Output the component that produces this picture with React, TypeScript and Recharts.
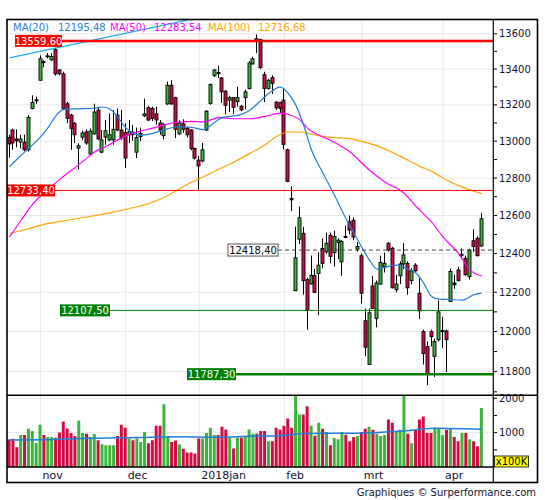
import React from 'react';
import { ComposedChart, Bar, Line, XAxis, YAxis, CartesianGrid, ReferenceLine, Cell } from 'recharts';

// DAX daily candles, 19 oct 2017 .. 17 apr 2018 (trading-day index 0..122)
const opens = [13020, 13061, 13012, 12995, 12994, 12953, 13180, 13222, 13337, 13442,
  13470, 13452, 13510, 13395, 13373, 13206, 13143, 13098, 12962, 13022,
  13051, 12930, 13040, 13171, 12940, 13022, 13007, 13007, 13143, 13061,
  13047, 13035, 13050, 12940, 13025, 13140, 13185, 13180, 13150, 13100,
  13030, 13205, 13309, 13240, 13040, 13095, 13070, 13061, 12960, 12897,
  12892, 13061, 13208, 13363, 13380, 13350, 13276, 13226, 13240, 13218,
  13192, 13240, 13291, 13429, 13572, 13567, 13368, 13291, 13352, 13215,
  13212, 13226, 12953, 12690, 12208, 12475, 12506, 12265, 12243, 12287,
  12297, 12427, 12409, 12496, 12406, 12458, 12357, 12490, 12567, 12575,
  12423, 12389, 12055, 11835, 12232, 12067, 12242, 12332, 12454, 12428,
  12213, 12285, 12346, 12349, 12260, 12340, 12195, 12000, 11925, 12000,
  11876, 11959, 12000, 12003, 12153, 12248, 12315, 12390, 12375, 12280,
  12467, 12480, 12440];
const highs = [13035, 13068, 13065, 13035, 13035, 13143, 13253, 13246, 13477, 13450,
  13490, 13490, 13520, 13400, 13385, 13217, 13150, 13105, 12988, 13057,
  13065, 13070, 13206, 13190, 13061, 13116, 13153, 13171, 13180, 13171,
  13098, 13116, 13090, 13075, 13075, 13235, 13195, 13190, 13190, 13116,
  13100, 13330, 13337, 13245, 13115, 13120, 13080, 13065, 12965, 12920,
  12990, 13171, 13318, 13400, 13420, 13355, 13282, 13250, 13240, 13300,
  13200, 13285, 13445, 13470, 13596, 13572, 13385, 13345, 13365, 13220,
  13218, 13290, 12960, 12756, 12542, 12648, 12540, 12275, 12390, 12320,
  12406, 12479, 12510, 12510, 12520, 12480, 12470, 12547, 12600, 12590,
  12460, 12400, 12117, 12117, 12285, 12260, 12389, 12406, 12460, 12435,
  12290, 12360, 12454, 12360, 12325, 12350, 12273, 12010, 11950, 12010,
  11965, 12158, 12075, 12010, 12322, 12290, 12330, 12427, 12390, 12425,
  12527, 12490, 12614];
const lows = [12910, 12953, 12966, 12960, 12945, 12943, 13175, 13206, 13335, 13410,
  13460, 13447, 13363, 13365, 13171, 13098, 12953, 12990, 12845, 13007,
  12980, 12925, 13035, 13007, 12935, 12980, 13000, 12980, 13055, 13007,
  12854, 12990, 13002, 12908, 13000, 13133, 13110, 13110, 13090, 13035,
  13010, 13200, 13200, 13017, 13035, 13045, 13020, 12950, 12900, 12738,
  12885, 13055, 13200, 13355, 13350, 13210, 13148, 13160, 13150, 13190,
  13165, 13175, 13285, 13425, 13490, 13400, 13215, 13285, 13260, 13172,
  13155, 12955, 12778, 12623, 12208, 12450, 12188, 12009, 12240, 12195,
  12082, 12323, 12400, 12350, 12333, 12372, 12285, 12480, 12500, 12470,
  12410, 12143, 11876, 11835, 12117, 12022, 12240, 12302, 12410, 12220,
  12200, 12242, 12320, 12188, 12240, 12305, 12063, 11835, 11733, 11925,
  11774, 11950, 11917, 11798, 12150, 12218, 12255, 12375, 12285, 12265,
  12409, 12385, 12435];
const closes = [12985, 12990, 13002, 13012, 12953, 13131, 13213, 13228, 13458, 13436,
  13475, 13471, 13373, 13373, 13180, 13125, 13070, 13035, 12975, 13045,
  12990, 13055, 13160, 13012, 13007, 13057, 13035, 13065, 13061, 13017,
  12908, 13052, 13035, 13020, 13042, 13150, 13116, 13125, 13116, 13061,
  13092, 13309, 13205, 13065, 13100, 13065, 13035, 12960, 12908, 12865,
  12953, 13165, 13314, 13395, 13375, 13272, 13197, 13240, 13186, 13240,
  13172, 13272, 13435, 13458, 13559.6, 13408, 13291, 13337, 13320, 13183,
  13180, 12983, 12782, 12683, 12378, 12588, 12260, 12108, 12287, 12200,
  12340, 12349, 12454, 12385, 12489, 12470, 12463, 12485, 12523, 12487,
  12437, 12195, 11922, 12095, 12117, 12248, 12354, 12349, 12418.4, 12223,
  12242, 12346, 12393, 12223, 12310, 12310, 12105, 11890, 11787.3, 11975,
  11950, 12100, 12005, 11959, 12307, 12239, 12260, 12396, 12290, 12418,
  12437, 12389, 12583];
// volume in units of 100K
const volumes = [801, 821, 572, 931, 931, 1111, 1051, 701, 1231, 931,
  871, 871, 851, 1001, 1321, 1121, 991, 901, 1351, 991,
  971, 871, 961, 781, 661, 631, 631, 631, 901, 1231,
  1141, 831, 781, 831, 731, 1021, 691, 781, 1201, 1201,
  1830, 901, 731, 771, 661, 532, 422, 422, 392, 831,
  831, 991, 1141, 931, 931, 1171, 1091, 851, 542, 851,
  851, 901, 1091, 971, 971, 1051, 1051, 751, 751, 1141,
  1091, 1201, 1410, 1141, 2100, 1530, 1530, 1769, 1201, 911,
  1290, 1111, 1021, 632, 841, 811, 1021, 941, 751, 871,
  901, 1021, 1111, 1171, 1081, 971, 901, 931, 1380, 1290,
  1021, 1081, 2100, 971, 691, 1081, 1380, 1470, 991, 991,
  1141, 1111, 931, 1081, 1111, 871, 751, 991, 991, 811,
  751, 601, 1719];

// moving averages at sample days
const ma20At = [0, 3, 5, 8, 10, 12, 14, 18, 22, 24, 26, 28, 30, 32, 34, 37, 40, 44, 47, 50, 52, 55, 59, 62, 65, 67, 70, 72, 74, 76, 78, 81, 84, 87, 89, 91, 93, 95, 97, 100, 103, 105, 107, 109, 111, 114, 117, 120, 122];
const ma20 = [12860, 12923, 12961, 13023, 13076, 13139, 13175, 13178, 13181, 13188, 13175, 13131, 13074, 13044, 13032, 13043, 13063, 13079, 13076, 13063, 13087, 13131, 13142, 13169, 13225, 13264, 13299, 13264, 13197, 13087, 12953, 12826, 12705, 12580, 12505, 12433, 12366, 12319, 12329, 12340, 12319, 12299, 12247, 12180, 12165, 12163, 12160, 12188, 12195.48];
const ma50At = [0, 3, 6, 10, 13, 16, 19, 22, 25, 28, 31, 34, 37, 40, 44, 47, 50, 54, 58, 62, 66, 70, 72, 75, 77, 80, 83, 88, 93, 97, 102, 105, 109, 112, 116, 119, 122];
const ma50 = [12487, 12575, 12660, 12740, 12793, 12842, 12890, 12942, 12972, 13007, 13037, 13056, 13071, 13089, 13105, 13109, 13105, 13129, 13123, 13123, 13136, 13154, 13147, 13117, 13070, 13032, 13004, 12941, 12842, 12779, 12717, 12649, 12566, 12487, 12400, 12314, 12283.54];
const ma100At = [0, 5, 10, 15, 21, 26, 31, 36, 40, 44, 47, 50, 54, 58, 62, 66, 69, 72, 75, 78, 81, 85, 88, 91, 96, 101, 106, 109, 113, 117, 120, 122];
const ma100 = [12505, 12531, 12558, 12575, 12596, 12614, 12637, 12664, 12697, 12743, 12777, 12806, 12846, 12887, 12932, 12980, 13026, 13050, 13050, 13038, 13026, 13018, 13014, 12999, 12966, 12917, 12863, 12836, 12788, 12751, 12729, 12716.68];
const volMaAt = [0, 9, 18, 33, 45, 52, 64, 70, 76, 88, 94, 102, 110, 118, 122];
const volMa = [786, 790, 830, 860, 880, 865, 900, 911, 975, 985, 1000, 1045, 1125, 1110, 1097];
const trendAt = [0, 46];
const trend = [13463, 13678];

const monthStarts = [8, 30, 49, 71, 91, 112];
const monthLabels = ['nov', 'dec', '2018jan', 'feb', 'mrt', 'apr'];
const priceLabels = [11800, 12000, 12200, 12400, 12600, 12800, 13000, 13200, 13400, 13600];
const priceTicks = [11700, 11800, 11900, 12000, 12100, 12200, 12300, 12400, 12500, 12600, 12700, 12800, 12900, 13000, 13100, 13200, 13300, 13400, 13500, 13600];
const volLabels = [1000, 2000];
const volTicks = [500, 1000, 1500, 2000];

const levelValues = [13559.6, 12733.4, 12418.4, 12107.5, 11787.3];
const levelTexts = ['13559,60', '12733,40', '12418,40', '12107,50', '11787,30'];
const legendNames = ['MA(20)', 'MA(50)', 'MA(100)'];
const legendValues = ['12195,48', '12283,54', '12716,68'];

// styles / layout
const RED = '#d40a42';
const GREEN = '#3bb53b';
const MA_COLORS = ['#1f7fd8', '#ff00ff', '#ffa500'];
const FONT = '"DejaVu Sans", Verdana, sans-serif';
const TEXT = '#121230';
const X_DOMAIN: [number, number] = [-0.65, 124.9];
const PRICE_DOMAIN: [number, number] = [11683, 13682];
const VOL_TOP = 385; // volume chart svg starts a bit above the panel so its top label fits
const levelStyles = [
  { boxX: 15, boxW: 47, color: '#ff0000', lineW: 2.5, dash: undefined, fill: '#ff0000', text: '#fff', border: 'none' },
  { boxX: 7, boxW: 48, color: '#ff0000', lineW: 1, dash: undefined, fill: '#ff0000', text: '#fff', border: 'none' },
  { boxX: 228, boxW: 50, color: '#444', lineW: 1, dash: '4 3', fill: '#fff', text: '#000', border: '#555' },
  { boxX: 60, boxW: 50, color: '#008000', lineW: 1, dash: undefined, fill: '#008000', text: '#fff', border: 'none' },
  { boxX: 187, boxW: 49, color: '#008000', lineW: 2.5, dash: undefined, fill: '#008000', text: '#fff', border: 'none' },
];
const legendX = [13, 58, 110, 154, 208, 258];

const placeAt = (at: number[], vals: number[], i: number) => {
  const k = at.indexOf(i);
  return k >= 0 ? vals[k] : null;
};

const priceData = closes.map((c, i) => ({
  i,
  o: opens[i],
  h: highs[i],
  l: lows[i],
  c,
  range: [lows[i], highs[i]],
  ma20: placeAt(ma20At, ma20, i),
  ma50: placeAt(ma50At, ma50, i),
  ma100: placeAt(ma100At, ma100, i),
  trend: placeAt(trendAt, trend, i),
}));

const volData = volumes.map((v, i) => ({
  i,
  vol: v,
  volMa: placeAt(volMaAt, volMa, i),
  up: closes[i] >= opens[i],
}));

function Candle(props: any) {
  const { x, y, width, height, payload } = props;
  if (x == null || !payload) return null;
  const { o, h, l, c } = payload;
  const cx = Math.floor(x + width / 2) + 0.5;
  const span = Math.log(h) - Math.log(l);
  const yAt = (v: number) => (span > 0 ? y + (height * (Math.log(h) - Math.log(v))) / span : y);
  const top = yAt(Math.max(o, c));
  const bot = yAt(Math.min(o, c));
  return (
    <g>
      <line x1={cx} x2={cx} y1={y} y2={y + height} stroke="#000" strokeWidth={1} />
      <rect x={cx - 1.5} y={top} width={3} height={Math.max(bot - top, 1)} fill={c >= o ? GREEN : RED} stroke="#000" strokeWidth={0.9} />
    </g>
  );
}

const levelShape = (k: number) => (props: any) => {
  const st = levelStyles[k];
  const { x1, x2, y1 } = props;
  const right = Math.max(x1, x2);
  return (
    <g>
      <line x1={st.boxX + st.boxW} x2={right} y1={y1} y2={y1} stroke={st.color} strokeWidth={st.lineW} strokeDasharray={st.dash} />
      <rect x={st.boxX} y={y1 - 6} width={st.boxW} height={12} fill={st.fill} stroke={st.border} strokeWidth={1} />
      <text x={st.boxX + st.boxW / 2} y={y1} dy={3.7} textAnchor="middle" fontSize={10} fontFamily={FONT} fill={st.text}>
        {levelTexts[k]}
      </text>
    </g>
  );
};

function PriceTick(props: any) {
  const { x, y, payload } = props;
  if (!priceLabels.includes(payload.value)) return <g />;
  return (
    <text x={x} y={y} dy={3.6} fontSize={10} fontFamily={FONT} fill={TEXT}>
      {payload.value}
    </text>
  );
}

function VolTick(props: any) {
  const { x, y, payload } = props;
  if (!volLabels.includes(payload.value)) return <g />;
  return (
    <text x={x} y={y} dy={3.6} fontSize={10} fontFamily={FONT} fill={TEXT}>
      {payload.value}
    </text>
  );
}

function MonthTick(props: any) {
  const { x, y, payload } = props;
  const k = monthStarts.indexOf(payload.value);
  if (k < 0) return <g />;
  return (
    <text x={x + 2} y={y} dy={11.5} fontSize={11} fontFamily={FONT} fill={TEXT}>
      {monthLabels[k]}
    </text>
  );
}

export default function App() {
  return (
    <div style={{ position: 'absolute', left: 0, top: 0, width: 545, height: 500, background: '#fff' }}>
      <div style={{ position: 'absolute', left: 0, top: 0 }}>
        <ComposedChart width={545} height={396} data={priceData} margin={{ top: 19.5, right: 8, bottom: 0.7, left: 7 }}>
          <CartesianGrid stroke="#e8e8e8" horizontalValues={priceLabels} verticalValues={monthStarts} />
          <XAxis type="number" dataKey="i" domain={X_DOMAIN} allowDataOverflow hide />
          <YAxis
            orientation="right"
            scale="log"
            domain={PRICE_DOMAIN}
            allowDataOverflow
            ticks={priceTicks}
            interval={0}
            width={44}
            axisLine={false}
            tickLine={{ stroke: '#000' }}
            tickSize={4}
            tickMargin={2}
            tick={<PriceTick />}
          />
          <Bar dataKey="range" barSize={3} shape={(p: any) => <Candle {...p} />} isAnimationActive={false} />
          <Line dataKey="trend" stroke="#18aef0" strokeWidth={1.2} dot={false} connectNulls isAnimationActive={false} />
          <Line dataKey="ma100" type="monotone" stroke={MA_COLORS[2]} strokeWidth={1.2} dot={false} connectNulls isAnimationActive={false} />
          <Line dataKey="ma50" type="monotone" stroke={MA_COLORS[1]} strokeWidth={1.2} dot={false} connectNulls isAnimationActive={false} />
          <Line dataKey="ma20" type="monotone" stroke={MA_COLORS[0]} strokeWidth={1.2} dot={false} connectNulls isAnimationActive={false} />
          {levelValues.map((v, k) => (
            <ReferenceLine key={k} y={v} shape={levelShape(k)} />
          ))}
        </ComposedChart>
      </div>
      <div style={{ position: 'absolute', left: 0, top: VOL_TOP }}>
        <ComposedChart width={545} height={483 - VOL_TOP} data={volData} margin={{ top: 395.3 - VOL_TOP, right: 8, bottom: 0, left: 7 }}>
          <CartesianGrid stroke="#e8e8e8" horizontalValues={volLabels} verticalValues={monthStarts} />
          <XAxis
            type="number"
            dataKey="i"
            domain={X_DOMAIN}
            allowDataOverflow
            ticks={monthStarts}
            interval={0}
            height={16}
            axisLine={false}
            tickLine={false}
            tickSize={0}
            tickMargin={0}
            tick={<MonthTick />}
          />
          <YAxis
            orientation="right"
            domain={[0, 2087]}
            allowDataOverflow
            ticks={volTicks}
            interval={0}
            width={44}
            axisLine={false}
            tickLine={{ stroke: '#000' }}
            tickSize={4}
            tickMargin={2}
            tick={<VolTick />}
          />
          <Bar dataKey="vol" barSize={3} isAnimationActive={false}>
            {volData.map((d) => (
              <Cell key={d.i} fill={d.up ? GREEN : RED} />
            ))}
          </Bar>
          <Line dataKey="volMa" type="monotone" stroke={MA_COLORS[0]} strokeWidth={1.5} dot={false} connectNulls isAnimationActive={false} />
        </ComposedChart>
      </div>
      <svg width={545} height={500} style={{ position: 'absolute', left: 0, top: 0, pointerEvents: 'none' }}>
        <rect x={7} y={19.5} width={530.5} height={463} fill="none" stroke="#000" strokeWidth={1.6} />
        <line x1={493.3} x2={493.3} y1={19.5} y2={482.5} stroke="#000" strokeWidth={1.2} />
        <line x1={7} x2={537.5} y1={395.3} y2={395.3} stroke="#000" strokeWidth={1.5} />
        <line x1={7} x2={493.3} y1={467} y2={467} stroke="#000" strokeWidth={1.5} />
        {legendNames.map((n, k) => (
          <g key={n}>
            <text x={legendX[2 * k]} y={31} fontSize={10} fontFamily={FONT} fill={MA_COLORS[k]}>{n}</text>
            <text x={legendX[2 * k + 1]} y={31} fontSize={10} fontFamily={FONT} fill={MA_COLORS[k]}>{legendValues[k]}</text>
          </g>
        ))}
        <rect x={494.5} y={456} width={34} height={11} fill="#ffff00" stroke="#000" strokeWidth={0.8} />
        <text x={511.5} y={465} textAnchor="middle" fontSize={10} fontFamily={FONT} fill="#000">x100K</text>
        <text x={536} y={496} textAnchor="end" fontSize={10} fontFamily={FONT} fill={TEXT}>Graphiques © Surperformance.com</text>
      </svg>
    </div>
  );
}
